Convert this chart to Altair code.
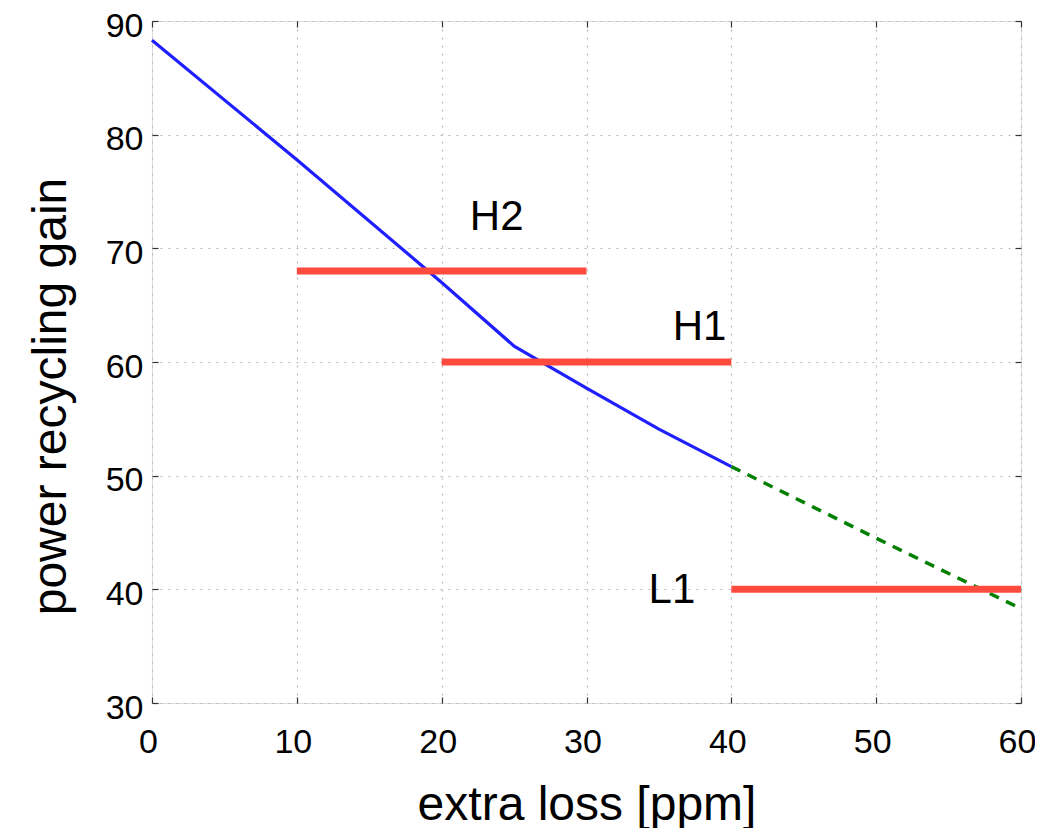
import altair as alt
import pandas as pd

# blue measured curve
blue_x = [0, 10, 20, 25, 30, 35, 40]
blue_y = [88.3, 77.8, 67.0, 61.4, 57.7, 54.1, 50.8]
# green dashed extrapolation
green_x = [40, 50, 60]
green_y = [50.8, 44.5, 38.3]
# red segments
seg_names = ["H2", "H1", "L1"]
seg_x0 = [10, 20, 40]
seg_x1 = [30, 40, 60]
seg_y = [68, 60, 40]
# labels
lab_x = [23.8, 37.8, 35.9]
lab_y = [72.8, 63.1, 39.9]

blue = pd.DataFrame({"x": blue_x, "y": blue_y})
green = pd.DataFrame({"x": green_x, "y": green_y})
segs = pd.DataFrame({"name": seg_names, "x0": seg_x0, "x1": seg_x1, "y": seg_y})
labs = pd.DataFrame({"name": seg_names, "x": lab_x, "y": lab_y})

FONT = "Liberation Sans"
xs = alt.Scale(domain=[0, 60], nice=False, zero=False)
ys = alt.Scale(domain=[30, 90], nice=False, zero=False)

common_axis = dict(
    domain=False, offset=-6, tickSize=6, tickColor="#333333", tickWidth=1.2,
    labelFont=FONT, labelFontSize=34, labelColor="black", labelFlush=False,
    titleFont=FONT, titleFontSize=48, titleFontWeight="normal", titleColor="black",
    grid=True, gridColor="#b8b8b8", gridDash=[2, 6], gridWidth=1.2,
)

x_bottom = alt.X("x:Q", scale=xs, axis=alt.Axis(
    title="extra loss [ppm]", values=[0, 10, 20, 30, 40, 50, 60],
    labelPadding=22, labelOffset=-4, titlePadding=22, **common_axis))
y_left = alt.Y("y:Q", scale=ys, axis=alt.Axis(
    title="power recycling gain", values=[30, 40, 50, 60, 70, 80, 90],
    labelPadding=9, labelOffset=5, titlePadding=30, titleY=375, **common_axis))

blue_line = alt.Chart(blue).mark_line(color="#1f1fff", strokeWidth=3.2).encode(
    x=x_bottom, y=y_left)

green_line = alt.Chart(green).mark_line(
    color="#007f00", strokeWidth=3.5, strokeDash=[10, 8]).encode(
    x=alt.X("x:Q", scale=xs), y=alt.Y("y:Q", scale=ys))

red = alt.Chart(segs).mark_rule(color="#ff4b3e", strokeWidth=7).encode(
    x=alt.X("x0:Q", scale=xs), x2="x1:Q", y=alt.Y("y:Q", scale=ys))

texts = alt.Chart(labs).mark_text(font=FONT, fontSize=42, color="black").encode(
    x=alt.X("x:Q", scale=xs), y=alt.Y("y:Q", scale=ys), text="name:N")

main = alt.layer(blue_line, green_line, red, texts)

# top/right inward ticks
tick_axis = dict(domain=False, offset=-6, tickSize=6, tickColor="#333333",
                 tickWidth=1.2, labels=False, title=None, grid=False)
top_right = alt.Chart(blue).mark_point(opacity=0).encode(
    x=alt.X("x:Q", scale=xs, axis=alt.Axis(orient="top", values=[0, 10, 20, 30, 40, 50, 60], **tick_axis)),
    y=alt.Y("y:Q", scale=ys, axis=alt.Axis(orient="right", values=[30, 40, 50, 60, 70, 80, 90], **tick_axis)),
)

chart = alt.layer(main, top_right).resolve_scale(
    x="independent", y="independent"
).properties(
    width=869, height=682,
    autosize=alt.AutoSizeParams(type="none"),
    padding={"left": 144, "top": 13, "right": 14, "bottom": 125},
).configure_view(stroke="#222222", strokeWidth=1.8).configure(background="white")

chart.save("out.html", embed_options={"renderer": "svg", "actions": False})
